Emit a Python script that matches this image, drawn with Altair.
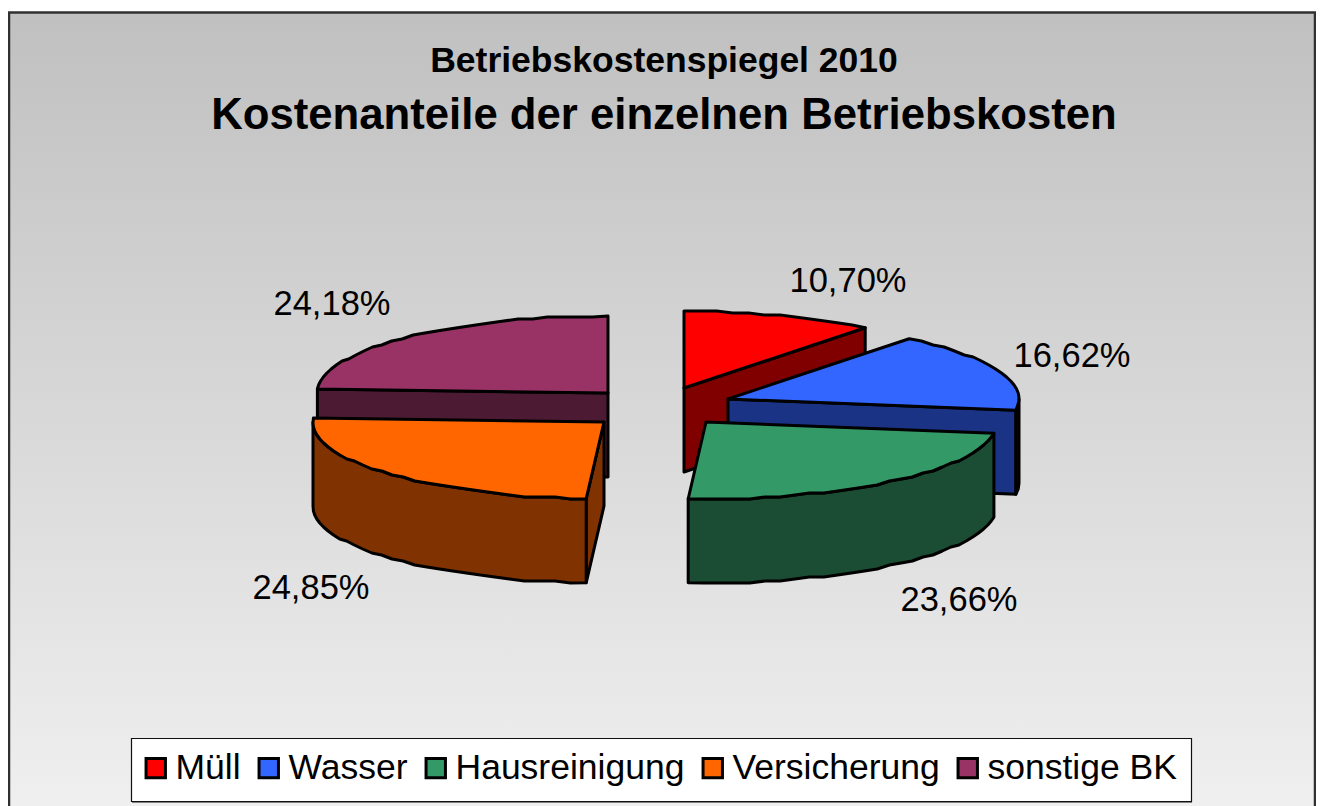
import math
import altair as alt
import pandas as pd

# ---- values
names = ["Müll", "Wasser", "Hausreinigung", "Versicherung", "sonstige BK"]
shares = [10.70, 16.62, 23.66, 24.85, 24.18]
top_colors = ["#FF0000", "#3366FF", "#339966", "#FF6600", "#993366"]
wall_colors = ["#800000", "#1A3385", "#1A4D33", "#803300", "#4D1A33"]
title_small = "Betriebskostenspiegel 2010"
title_big = "Kostenanteile der einzelnen Betriebskosten"

# ---- layout of the exploded 3D pie (page pixels)
W, H = 1308, 798
RX, RY, DEPTH = 291, 77, 84
GRID = 2.0
apex = {"Müll": (684, 387), "Wasser": (728, 398), "Hausreinigung": (706, 421),
        "Versicherung": (604, 421), "sonstige BK": (608, 392)}
label_pos = {"Müll": (848, 282), "Wasser": (1072, 357), "Hausreinigung": (959, 601),
             "Versicherung": (311, 589), "sonstige BK": (332, 305)}
cut_faces = {"Müll": "end", "Wasser": "end", "Versicherung": "start", "sonstige BK": "start"}
wall_order = ["sonstige BK", "Versicherung", "Müll", "Wasser", "Hausreinigung"]

total = sum(shares)
spans, c = {}, 0.0
for n, s in zip(names, shares):
    spans[n] = (c, c + s / total * 360)
    c += s / total * 360


def rim(n, a, dz=0.0):
    cx, cy = apex[n]
    r = math.radians(a)
    return [cx + RX * math.sin(r), cy - RY * math.cos(r) + dz]


def arc(n, a0, a1, dz=0.0):
    steps = max(2, int((a1 - a0) / 3))
    pts = [rim(n, a0 + (a1 - a0) * i / steps, dz) for i in range(steps + 1)]
    return [pts[0]] + [[p[0], round(p[1] / GRID) * GRID] for p in pts[1:-1]] + [pts[-1]]


def feature(n, ring, **props):
    ring = ring + [ring[0]]
    return {"type": "Feature", "properties": dict(name=n, **props),
            "geometry": {"type": "Polygon", "coordinates": [ring]}}


tops, walls = [], []
col = dict(zip(names, wall_colors))
for n in wall_order:
    a0, a1 = spans[n]
    cx, cy = apex[n]
    side = cut_faces.get(n)
    if side:
        a = a1 if side == "end" else a0
        walls.append(feature(n, [[cx, cy], rim(n, a), rim(n, a, DEPTH), [cx, cy + DEPTH]], shade=col[n]))
    lo, hi = max(a0, 90), min(a1, 270)
    if lo < hi:
        walls.append(feature(n, arc(n, lo, hi) + arc(n, lo, hi, DEPTH)[::-1], shade=col[n]))
for n in names:
    a0, a1 = spans[n]
    tops.append(feature(n, [list(apex[n])] + arc(n, a0, a1)))

geo_fmt = alt.DataFormat(property="features", type="json")
proj = alt.Projection(type="identity", scale=1, translate=[-8, -7])
OUT = dict(stroke="black", strokeWidth=3, strokeJoin="round")

wall_layer = alt.Chart(alt.InlineData(values={"type": "FeatureCollection", "features": walls}, format=geo_fmt)).mark_geoshape(**OUT).encode(
    fill=alt.Fill("properties.shade:N", scale=None)
).project(**proj.to_dict())

top_layer = alt.Chart(alt.InlineData(values={"type": "FeatureCollection", "features": tops}, format=geo_fmt)).mark_geoshape(**OUT).encode(
    color=alt.Color(
        "properties.name:N",
        scale=alt.Scale(domain=names, range=top_colors),
        sort=None,
        legend=alt.Legend(
            title=None, orient="none", legendX=130, legendY=742, direction="horizontal", columns=5,
            padding=0, columnPadding=10,
            symbolType="square", symbolSize=376, symbolStrokeColor="black", symbolStrokeWidth=3,
            symbolOpacity=1, labelFont="Liberation Sans", labelFontSize=35.5, labelColor="black",
            labelOffset=2, labelLimit=400, rowPadding=0,
        ),
    )
).project(**proj.to_dict())

one = pd.DataFrame({"a": [0]})
backdrop = alt.Chart(one).mark_rect(
    fill=alt.LinearGradient(gradient="linear", x1=0, x2=0, y1=0, y2=1,
                            stops=[alt.GradientStop(offset=0, color="#C0C0C0"),
                                   alt.GradientStop(offset=1, color="#F0F0F0")]),
    stroke="#303030", strokeWidth=2.5,
).encode(x=alt.value(1), x2=alt.value(W - 1), y=alt.value(4.5), y2=alt.value(H + 10))

legend_shadow = alt.Chart(one).mark_rule(stroke="#808080", strokeWidth=2).encode(
    x=alt.value(124), x2=alt.value(1184), y=alt.value(794))
legend_box = alt.Chart(one).mark_rect(fill="white", stroke="#101010", strokeWidth=1.2).encode(
    x=alt.value(123.5), x2=alt.value(1183.5), y=alt.value(730.5), y2=alt.value(793.5))

labels = pd.DataFrame({
    "t": [f"{s:.2f}".replace(".", ",") + "%" for s in shares],
    "x": [label_pos[n][0] - 8 for n in names],
    "y": [label_pos[n][1] - 8 for n in names],
})
label_layer = alt.Chart(labels).mark_text(font="Liberation Sans", fontSize=34.5, color="black", align="center", baseline="middle").encode(
    x=alt.X("x:Q", scale=None), y=alt.Y("y:Q", scale=None), text="t:N")

chart = alt.layer(backdrop, legend_shadow, legend_box, wall_layer, top_layer, label_layer).properties(
    width=W, height=H, padding=0, autosize=alt.AutoSizeParams(type="none"),
    background="white",
    title=alt.TitleParams(
        text=title_small, subtitle=title_big, anchor="middle", frame="group", orient="top",
        offset=-130, dx=2, font="Liberation Sans", fontSize=35.5, fontWeight="bold", color="black",
        subtitleFont="Liberation Sans", subtitleFontSize=43.7, subtitleFontWeight="bold",
        subtitleColor="black", subtitlePadding=15,
    ),
).configure_view(stroke=None)

chart.save("out.html", embed_options={"renderer": "svg", "actions": False})
